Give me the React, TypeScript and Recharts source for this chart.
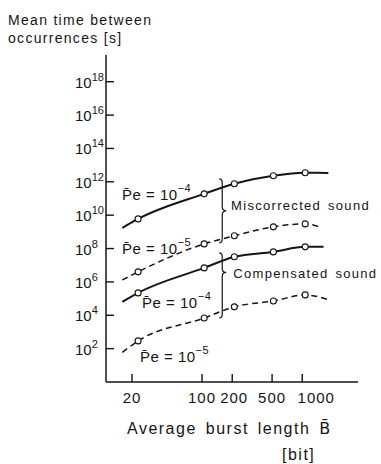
import React from 'react';
import { ComposedChart, Line, XAxis, YAxis, ReferenceDot, ReferenceArea, Label } from 'recharts';

// Average burst length (bit) and mean time between occurrences (s)
const miscPe4X = [16, 23, 105, 210, 515, 1070, 1820];
const miscPe4Y = [1.74e9, 6.0e9, 1.9e11, 7.6e11, 2.3e12, 3.5e12, 3.4e12];
const miscPe5X = [16, 23, 105, 210, 515, 1070, 1520];
const miscPe5Y = [1.3e6, 4.0e6, 1.9e8, 5.8e8, 2.0e9, 3.0e9, 1.9e9];
const compPe4X = [16, 23, 105, 210, 515, 1070, 1630];
const compPe4Y = [6.3e4, 2.2e5, 6.9e6, 3.2e7, 6.3e7, 1.26e8, 1.26e8];
const compPe5X = [16, 23, 105, 210, 515, 1070, 1820];
const compPe5Y = [60, 290, 6900, 3.2e4, 7.2e4, 1.66e5, 8.5e4];

const xTicks = [20, 100, 200, 500, 1000];
const yTicks = [1e2, 1e4, 1e6, 1e8, 1e10, 1e12, 1e14, 1e16, 1e18];

const peLabels = [
  { x: 15.9, y: 8.3e10, exp: '−4' },
  { x: 15.9, y: 4.8e7, exp: '−5' },
  { x: 25.2, y: 2.8e4, exp: '−4' },
  { x: 24, y: 16, exp: '−5' },
];
const groupLabels = [
  { x: 195, y: 2.1e10, text: 'Miscorrected sound' },
  { x: 205, y: 1.7e6, text: 'Compensated sound' },
];
const braces = [
  { x1: 159, x2: 182, y1: 2.2e8, y2: 1.5e12, mid: 0.5 },
  { x1: 159, x2: 182, y1: 6.9e3, y2: 5.5e7, mid: 0.3 },
];

const FONT = '"Liberation Sans", Arial, sans-serif';
const INK = '#151515';

const build = (xs: number[], ys: number[]) =>
  xs.map((x, i) => ({ x, y: ys[i], mark: i > 0 && i < xs.length - 1 }));

const seriesList = [
  { key: 'mp4', data: build(miscPe4X, miscPe4Y), dashed: false },
  { key: 'mp5', data: build(miscPe5X, miscPe5Y), dashed: true },
  { key: 'cp4', data: build(compPe4X, compPe4Y), dashed: false },
  { key: 'cp5', data: build(compPe5X, compPe5Y), dashed: true },
];

const MarkDot = (props: any) => {
  const { cx, cy, payload, index } = props;
  if (!payload || !payload.mark) return <g key={`e${index}`} />;
  return <circle key={`d${index}`} cx={cx} cy={cy} r={3} fill="#fff" stroke={INK} strokeWidth={1.1} />;
};

const YTick = (props: any) => {
  const { x, y, payload } = props;
  const exp = Math.round(Math.log10(payload.value));
  return (
    <g>
      <line x1={x} x2={x + 8} y1={y} y2={y} stroke={INK} strokeWidth={1.4} />
      <text x={x - 31} y={y + 6} fontSize={15} fontFamily={FONT} fill={INK}>
        10
        <tspan dy={-7} fontSize={11}>{exp}</tspan>
      </text>
    </g>
  );
};

const XTick = (props: any) => {
  const { x, y, payload } = props;
  const dx = payload.value === 1000 ? 14 : payload.value === 200 ? 2 : 0;
  return (
    <g>
      <line x1={x} x2={x} y1={y} y2={y - 8} stroke={INK} strokeWidth={1.4} />
      <text x={x + dx} y={y + 21} textAnchor="middle" fontSize={15} letterSpacing={1} fontFamily={FONT} fill={INK}>
        {payload.value}
      </text>
    </g>
  );
};

const PeLabel = (exp: string) => (p: any) => (
  <text x={p.cx} y={p.cy} fontSize={15} fontFamily={FONT} fill={INK} letterSpacing={0.5}>
    P̄e = 10
    <tspan dy={-8} fontSize={11}>{exp}</tspan>
  </text>
);

const GroupLabel = (t: string) => (p: any) => (
  <text x={p.cx} y={p.cy} fontSize={13} fontFamily={FONT} fill={INK} letterSpacing={1.3} wordSpacing={2}>
    {t}
  </text>
);

const Brace = (mid: number) => (p: any) => {
  const { x, y, height } = p;
  const m = y + height * mid;
  const b = y + height;
  const d = `M ${x - 3} ${y} Q ${x} ${y} ${x} ${y + 4} L ${x} ${m - 4} Q ${x} ${m} ${x + 4} ${m} Q ${x} ${m} ${x} ${m + 4} L ${x} ${b - 4} Q ${x} ${b} ${x - 3} ${b}`;
  return <path d={d} fill="none" stroke={INK} strokeWidth={1.2} />;
};

const YTitle = (p: any) => {
  const vb = p.viewBox;
  return (
    <g>
      <text x={vb.x - 38} y={vb.y - 30} fontSize={14} fontFamily={FONT} fill={INK} letterSpacing={1.3}>
        Mean time between
      </text>
      <text x={vb.x - 38} y={vb.y - 12} fontSize={14} fontFamily={FONT} fill={INK} letterSpacing={1.3}>
        occurrences [s]
      </text>
    </g>
  );
};

const XTitle = (p: any) => {
  const vb = p.viewBox;
  return (
    <g>
      <text x={vb.x + 21} y={vb.y + 52} fontSize={16} fontFamily={FONT} fill={INK} letterSpacing={1.5} wordSpacing={3}>
        Average burst length <tspan fontFamily='"DejaVu Sans", sans-serif'>B̄</tspan>
      </text>
      <text x={vb.x + 176} y={vb.y + 78} fontSize={16} fontFamily={FONT} fill={INK} letterSpacing={1.5}>
        [bit]
      </text>
    </g>
  );
};

export default function App() {
  return (
    <div style={{ position: 'absolute', left: 0, top: 0, width: 381, height: 464, background: '#fff' }}>
      <ComposedChart width={381} height={464} margin={{ top: 55, right: 23, bottom: 52, left: 46 }}>
        <XAxis
          dataKey="x"
          type="number"
          scale="log"
          domain={[11, 3600]}
          ticks={xTicks}
          allowDataOverflow
          height={30}
          tickSize={0}
          tickMargin={0}
          tickLine={false}
          axisLine={{ stroke: INK, strokeWidth: 1.5 }}
          tick={<XTick />}
          interval={0}
        >
          <Label content={<XTitle />} />
        </XAxis>
        <YAxis
          dataKey="y"
          type="number"
          scale="log"
          domain={[1, 4e19]}
          ticks={yTicks}
          allowDataOverflow
          width={60}
          tickSize={0}
          tickMargin={0}
          tickLine={false}
          axisLine={{ stroke: INK, strokeWidth: 1.5 }}
          tick={<YTick />}
          interval={0}
        >
          <Label content={<YTitle />} />
        </YAxis>
        {seriesList.map((s) => (
          <Line
            key={s.key}
            data={s.data}
            dataKey="y"
            type="monotone"
            stroke={INK}
            strokeWidth={s.dashed ? 1.5 : 2}
            strokeDasharray={s.dashed ? '6 4' : undefined}
            dot={<MarkDot />}
            activeDot={false}
            isAnimationActive={false}
          />
        ))}
        {braces.map((b, i) => (
          <ReferenceArea key={`b${i}`} x1={b.x1} x2={b.x2} y1={b.y1} y2={b.y2} shape={Brace(b.mid)} />
        ))}
        {peLabels.map((l, i) => (
          <ReferenceDot key={`p${i}`} x={l.x} y={l.y} r={0} shape={PeLabel(l.exp)} />
        ))}
        {groupLabels.map((l, i) => (
          <ReferenceDot key={`g${i}`} x={l.x} y={l.y} r={0} shape={GroupLabel(l.text)} ifOverflow="visible" />
        ))}
      </ComposedChart>
    </div>
  );
}
